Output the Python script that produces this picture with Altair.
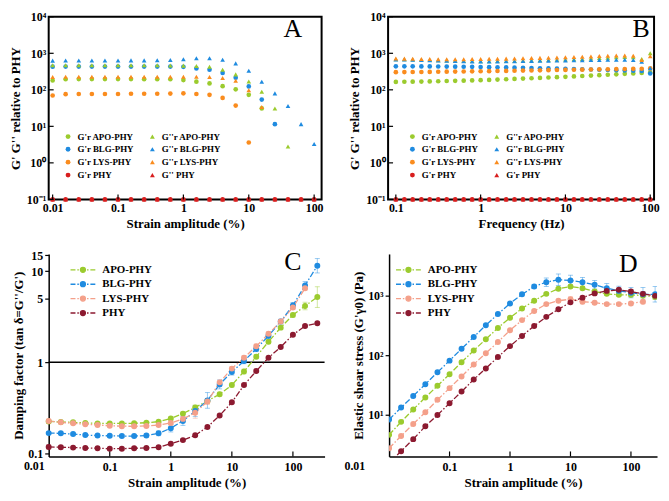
import altair as alt
import pandas as pd

FONT = "Liberation Serif"
GREEN = "#9BCB2E"
BLUE = "#1F8BE0"
ORANGE = "#FA8C1E"
RED = "#D81E1E"
SALMON = "#F4A08A"
MAROON = "#8C1A30"

# ---------------- Panel A : strain sweep (relative moduli) ----------------
strain_A = [0.01, 0.0158, 0.0251, 0.0398, 0.0631, 0.1, 0.158, 0.251, 0.398, 0.631,
            1, 1.58, 2.51, 3.98, 6.31, 10, 15.8, 25.1, 39.8, 63.1, 100]
A_gp_apo = [180, 195, 197, 197, 197, 197, 197, 196, 196, 195, 185, 167, 150, 126, 103, 73, 31, None, None, None, None]
A_gp_blg = [430, 432, 432, 432, 432, 432, 432, 432, 432, 432, 425, 385, 355, 290, 215, 124, 54, 11.5, None, None, None]
A_gp_lys = [70, 76, 77, 77, 77, 77, 78, 78, 78, 79, 80, 77, 73, 60, 37, 3.6, None, None, None, None, None]
A_gp_phy = [0.1, 0.1, 0.1, 0.1, 0.1, 0.1, 0.1, 0.1, 0.1, 0.1, 0.1, 0.1, 0.1, 0.1, 0.1, 0.1, 0.1, 0.1, 0.1, 0.1, 0.1]
A_gpp_apo = [470, 470, 470, 470, 470, 470, 470, 470, 468, 466, 460, 450, 430, 355, 265, 170, 88, 31, 2.8, None, None]
A_gpp_blg = [630, 635, 635, 635, 635, 635, 640, 640, 645, 655, 690, 730, 730, 670, 530, 335, 167, 80, 36, 11.5, 3.3]
A_gpp_lys = [225, 228, 228, 228, 228, 228, 228, 228, 228, 228, 228, 228, 225, 210, 177, 97, 34, None, None, None, None]
A_gpp_phy = [0.1, 0.1, 0.1, 0.1, 0.1, 0.1, 0.1, 0.1, 0.1, 0.1, 0.1, 0.1, 0.1, 0.1, 0.1, 0.1, 0.1, 0.1, 0.1, 0.1, 0.1]
A_names = ["G'r APO-PHY", "G'r BLG-PHY", "G'r LYS-PHY", "G'r PHY",
           "G''r APO-PHY", "G''r BLG-PHY", "G''r LYS-PHY", "G'' PHY"]

# ---------------- Panel B : frequency sweep ----------------
freq_B = [0.1, 0.126, 0.158, 0.2, 0.251, 0.316, 0.398, 0.501, 0.631, 0.794,
          1, 1.26, 1.58, 2, 2.51, 3.16, 3.98, 5.01, 6.31, 7.94,
          10, 12.6, 15.8, 20, 25.1, 31.6, 39.8, 50.1, 63.1, 79.4, 100]
B_gp_apo = [165, 166, 167, 168, 170, 172, 174, 176, 178, 181, 184, 187, 191, 195, 199, 203,
            207, 212, 217, 222, 227, 233, 239, 245, 252, 259, 266, 274, 282, 290, 300]
B_gp_blg = [440, 440, 439, 438, 437, 435, 433, 431, 428, 425, 422, 418, 414, 410, 405, 400,
            395, 390, 385, 380, 375, 370, 365, 360, 355, 350, 345, 340, 335, 330, 280]
B_gp_lys = [305, 306, 307, 308, 310, 312, 314, 316, 318, 320, 322, 324, 327, 330, 333, 336,
            339, 342, 345, 348, 351, 354, 357, 360, 363, 366, 369, 372, 375, 378, 385]
B_gp_phy = [0.1, 0.1, 0.1, 0.1, 0.1, 0.1, 0.1, 0.1, 0.1, 0.1, 0.1, 0.1, 0.1, 0.1, 0.1, 0.1,
            0.1, 0.1, 0.1, 0.1, 0.1, 0.1, 0.1, 0.1, 0.1, 0.1, 0.1, 0.1, 0.1, 0.1, 0.1]
B_gpp_apo = [690, 685, 680, 670, 660, 650, 640, 630, 620, 615, 610, 610, 612, 615, 620, 630,
             640, 650, 660, 670, 680, 690, 700, 720, 740, 760, 780, 790, 780, 700, 1000]
B_gpp_blg = [680, 675, 670, 660, 650, 640, 630, 620, 610, 600, 595, 595, 600, 605, 610, 615,
             620, 625, 630, 635, 640, 645, 650, 655, 660, 665, 670, 665, 655, 590, 390]
B_gpp_lys = [720, 715, 710, 700, 695, 690, 690, 690, 690, 695, 700, 705, 710, 715, 720, 730,
             740, 750, 760, 770, 780, 790, 800, 820, 840, 860, 870, 870, 860, 660, 830]
B_gpp_phy = [0.1, 0.1, 0.1, 0.1, 0.1, 0.1, 0.1, 0.1, 0.1, 0.1, 0.1, 0.1, 0.1, 0.1, 0.1, 0.1,
             0.1, 0.1, 0.1, 0.1, 0.1, 0.1, 0.1, 0.1, 0.1, 0.1, 0.1, 0.1, 0.1, 0.1, 0.1]
B_names = ["G'r APO-PHY", "G'r BLG-PHY", "G'r LYS-PHY", "G'r PHY",
           "G''r APO-PHY", "G''r BLG-PHY", "G''r LYS-PHY", "G'r PHY "]

# ---------------- Panel C : damping factor ----------------
strain_C = [0.01, 0.0158, 0.0251, 0.0398, 0.0631, 0.1, 0.158, 0.251, 0.398, 0.631,
            1, 1.58, 2.51, 3.98, 6.31, 10, 15.8, 25.1, 39.8, 63.1, 100, 158, 251]
C_apo = [0.223, 0.22, 0.218, 0.215, 0.212, 0.212, 0.212, 0.213, 0.216, 0.222, 0.24, 0.272,
         0.318, 0.375, 0.445, 0.56, 0.79, 1.15, 1.68, 2.4, 3.3, 4.15, 5.2]
C_blg = [0.166, 0.165, 0.162, 0.158, 0.156, 0.155, 0.154, 0.154, 0.156, 0.165, 0.188, 0.226,
         0.29, 0.38, 0.57, 0.78, 1.03, 1.4, 1.95, 2.8, 4.2, 7.0, 11.5]
C_lys = [0.225, 0.218, 0.213, 0.208, 0.204, 0.2, 0.198, 0.197, 0.199, 0.204, 0.214, 0.238,
         0.278, 0.37, 0.6, 0.85, 1.12, 1.5, 2.05, 2.8, 4.0, 6.5, None]
C_phy = [0.117, 0.116, 0.115, 0.114, 0.113, 0.112, 0.112, 0.113, 0.114, 0.116, 0.127, 0.139,
         0.157, 0.194, 0.259, 0.362, 0.56, 0.8, 1.12, 1.47, 2.0, 2.5, 2.68]
C_err_apo = [0.04, 0.03, 0.03, 0.02, 0.02, 0.02, 0.02, 0.02, 0.03, 0.03, 0.04, 0.04,
             0.06, 0.06, 0.05, 0.05, 0.06, 0.05, 0.05, 0.05, 0.05, 0.1, 0.3]
C_err_blg = [0.03, 0.03, 0.03, 0.03, 0.03, 0.03, 0.03, 0.03, 0.04, 0.06, 0.1, 0.12,
             0.15, 0.22, 0.12, 0.08, 0.07, 0.07, 0.07, 0.06, 0.08, 0.1, 0.2]
C_err_lys = [0.05, 0.04, 0.03, 0.03, 0.03, 0.03, 0.03, 0.03, 0.03, 0.04, 0.05, 0.06,
             0.15, 0.08, 0.06, 0.05, 0.05, 0.05, 0.05, 0.05, 0.05, 0.05, None]
C_err_phy = [0.05, 0.04, 0.03, 0.03, 0.03, 0.03, 0.03, 0.03, 0.03, 0.03, 0.03, 0.03,
             0.03, 0.03, 0.03, 0.03, 0.03, 0.03, 0.03, 0.03, 0.03, 0.03, 0.03]

# ---------------- Panel D : elastic shear stress ----------------
strain_D = strain_C
D_apo = [4.6, 7.6, 12.3, 19.5, 30.6, 48, 76, 120, 185, 287, 424, 610, 820, 1070, 1300,
         1420, 1330, 1170, 1070, 1030, 1030, 1000, 960]
D_blg = [8.3, 13.2, 20.7, 32.6, 51.6, 81, 128, 202, 318, 490, 740, 1050, 1420, 1680, 1850,
         1800, 1680, 1520, 1330, 1200, 1120, 1050, 1050]
D_lys = [2.75, 4.4, 7.0, 11, 17.8, 28, 44, 70, 108, 166, 262, 388, 550, 720, 820, 870,
         790, 760, 720, 720, 740, 790, None]
D_phy = [1.55, 2.45, 3.9, 6.4, 9.9, 15.6, 24.5, 39, 60, 93, 142, 210, 310, 440, 590, 770,
         925, 1090, 1200, 1250, 1170, 1070, 990]
D_err_apo = [0.03, 0.03, 0.03, 0.03, 0.03, 0.03, 0.03, 0.03, 0.03, 0.03, 0.03, 0.03, 0.04,
             0.05, 0.05, 0.06, 0.06, 0.06, 0.06, 0.06, 0.08, 0.1, 0.12]
D_err_blg = [0.03, 0.03, 0.03, 0.03, 0.03, 0.03, 0.03, 0.03, 0.03, 0.03, 0.04, 0.06, 0.08,
             0.18, 0.25, 0.22, 0.2, 0.18, 0.2, 0.2, 0.22, 0.3, 0.35]
D_err_lys = [0.03, 0.03, 0.03, 0.03, 0.03, 0.03, 0.03, 0.03, 0.03, 0.03, 0.03, 0.03, 0.04,
             0.05, 0.06, 0.1, 0.08, 0.06, 0.06, 0.06, 0.06, 0.08, None]
D_err_phy = [0.03, 0.03, 0.03, 0.03, 0.03, 0.03, 0.03, 0.03, 0.03, 0.03, 0.03, 0.03, 0.03,
             0.03, 0.03, 0.04, 0.05, 0.05, 0.06, 0.06, 0.08, 0.1, 0.12]

CD_names = ["APO-PHY", "BLG-PHY", "LYS-PHY", "PHY"]
CD_colors = [GREEN, BLUE, SALMON, MAROON]


def long_table(x, names, series, key, errs=None):
    rows = []
    for i, (n, ys) in enumerate(zip(names, series)):
        for j, (xv, yv) in enumerate(zip(x, ys)):
            if yv is None:
                continue
            row = {"x": xv, "y": yv, key: n}
            if errs is not None:
                e = errs[i][j] or 0
                row["lo"] = yv / (1 + e)
                row["hi"] = yv * (1 + e)
            rows.append(row)
    return pd.DataFrame(rows)


def axis(title, values, **kw):
    base = dict(title=title, values=values, labelFont=FONT, labelFontSize=12,
                labelFontWeight="bold", labelColor="black", titleFont=FONT,
                titleFontSize=13, titleFontWeight="bold", titleColor="black",
                grid=False, ticks=False, domainColor="black", domainWidth=1.5,
                labelFlush=False, labelPadding=3, titlePadding=4)
    base.update(kw)
    return alt.Axis(**base)


def xtick_layer(xvals, xenc, H):
    return alt.Chart(pd.DataFrame({"x": xvals})).mark_rule(color="black", strokeWidth=1.2).encode(
        x=xenc, y=alt.value(H), y2=alt.value(H - 5))


def ytick_layer(yvals, yenc):
    return alt.Chart(pd.DataFrame({"y": yvals})).mark_rule(color="black", strokeWidth=1.2).encode(
        y=yenc, x=alt.value(0), x2=alt.value(5))


def letter(txt, x, y):
    return alt.Chart(pd.DataFrame({"t": [txt]})).mark_text(
        font=FONT, fontSize=26, color="black", align="center", baseline="middle").encode(
        text="t:N", x=alt.value(x), y=alt.value(y))


SUP_AB = ("datum.value >= 9999 ? '10\u2074' : datum.value >= 999 ? '10\u00b3' : "
          "datum.value >= 99 ? '10\u00b2' : datum.value >= 9 ? '10\u00b9' : "
          "datum.value >= 0.9 ? '10\u2070' : '10\u207b\u00b9'")
SUP_D = "datum.value >= 999 ? '10\u00b3' : datum.value >= 99 ? '10\u00b2' : '10\u00b9'"


def moduli_panel(x, names, series, colors, shapes, xdomain, xvals, xtitle, W, H, let, letx,
                 lety, legx, key):
    df = long_table(x, names, series, key)
    xenc = alt.X("x:Q", scale=alt.Scale(type="log", domain=xdomain, nice=False),
                 axis=axis(xtitle, xvals, format="~g", domain=False))
    yvals = [0.1, 1, 10, 100, 1000, 10000]
    yenc = alt.Y("y:Q", scale=alt.Scale(type="log", domain=[0.1, 10000], nice=False),
                 axis=axis("G' G'' relative to PHY", yvals, labelExpr=SUP_AB, domain=False))
    leg = alt.Legend(orient="none", legendX=legx, legendY=H - 68, columns=2, title=None,
                     labelFont=FONT, labelFontSize=9, labelFontWeight="bold",
                     labelColor="black", symbolSize=24, symbolStrokeWidth=0,
                     columnPadding=14, rowPadding=3, labelOffset=5, padding=0)
    pts = alt.Chart(df).mark_point(filled=True, size=22, opacity=1).encode(
        x=xenc, y=yenc,
        color=alt.Color(f"{key}:N", scale=alt.Scale(domain=names, range=colors), legend=leg),
        shape=alt.Shape(f"{key}:N", scale=alt.Scale(domain=names, range=shapes), legend=leg),
    )
    layers = [pts, xtick_layer(list(xvals), xenc, H), ytick_layer(yvals, yenc),
              letter(let, letx, lety)]
    return alt.layer(*layers).properties(
        width=W, height=H, view=alt.ViewBackground(stroke="black", strokeWidth=2))


def curve_panel(x, series, errs, xmax, ydomain, yvals, ytitle, ylabel_expr, W, H, let, letx,
                lety, legx, clip, key, dx001, hline=False):
    df = long_table(x, CD_names, series, key, errs)
    xlab = "datum.value < 0.011 ? '' : datum.label"
    xenc = alt.X("x:Q", scale=alt.Scale(type="log", domain=[0.01, xmax], nice=False),
                 axis=axis("Strain amplitude (%)", [0.01, 0.1, 1, 10, 100], format="~g",
                           labelExpr=xlab, labelPadding=5))
    ykw = dict(labelExpr=ylabel_expr) if ylabel_expr else dict(format="~g")
    ykw.update(ticks=True, tickSize=4, tickWidth=1.2, tickColor="black",
               labelPadding=2, titlePadding=2)
    yenc = alt.Y("y:Q", scale=alt.Scale(type="log", domain=ydomain, nice=False),
                 axis=axis(ytitle, yvals, **ykw))
    yenc_lo = alt.Y("lo:Q", scale=alt.Scale(type="log", domain=ydomain, nice=False),
                    axis=axis(ytitle, yvals, **ykw))
    cscale = alt.Scale(domain=CD_names, range=CD_colors)
    path = ("M-1,0H-0.6M-0.45,0H-0.33M-0.2,0A0.2,0.2,0,1,1,0.2,0"
            "A0.2,0.2,0,1,1,-0.2,0M0.33,0H0.45M0.6,0H1")
    leg = alt.Legend(orient="none", legendX=legx, legendY=10, title=None, symbolType=path,
                     symbolSize=625, symbolStrokeWidth=1.3, symbolOpacity=1, labelFont=FONT,
                     labelFontSize=11, labelFontWeight="bold", labelColor="black",
                     clipHeight=12, rowPadding=2.5, labelOffset=6, padding=0)
    col = alt.Color(f"{key}:N", scale=cscale, legend=leg)
    layers = []
    if hline:
        layers.append(alt.Chart(pd.DataFrame({"y": [1]})).mark_rule(
            color="black", strokeWidth=1.5).encode(y=yenc))
    err = alt.Chart(df).mark_errorbar(ticks=True, opacity=0.45, clip=clip).encode(
        x=xenc, y=yenc_lo, y2=alt.Y2("hi:Q"), color=col)
    line = alt.Chart(df).mark_line(strokeDash=[6, 2, 1.5, 2], strokeWidth=1.3, clip=clip).encode(
        x=xenc, y=yenc, color=col)
    pts = alt.Chart(df).mark_point(filled=True, size=16, opacity=1, clip=clip).encode(
        x=xenc, y=yenc, color=col,
        stroke=alt.Stroke(f"{key}:N", scale=cscale, legend=leg))
    first_label = alt.Chart(pd.DataFrame({"x": [0.01], "t": ["0.01"]})).mark_text(
        font=FONT, fontSize=12, fontWeight="bold", color="black", align="right",
        baseline="top", dx=-dx001).encode(x=xenc, y=alt.value(H + 5), text="t:N")
    layers += [err, line, pts, first_label, xtick_layer([0.1, 1, 10, 100], xenc, H),
               letter(let, letx, lety)]
    return alt.layer(*layers).properties(width=W, height=H)


H1 = 184
H2 = 204
AB_colors = [GREEN, BLUE, ORANGE, RED, GREEN, BLUE, ORANGE, RED]
AB_shapes = ["circle"] * 4 + ["triangle-up"] * 4

A = moduli_panel(strain_A, A_names,
                 [A_gp_apo, A_gp_blg, A_gp_lys, A_gp_phy, A_gpp_apo, A_gpp_blg, A_gpp_lys, A_gpp_phy],
                 AB_colors, AB_shapes,
                 [0.0087, 130], [0.01, 0.1, 1, 10, 100], "Strain amplitude (%)",
                 275, H1, "A", 246, 12, 15, "sa")
B = moduli_panel(freq_B, B_names,
                 [B_gp_apo, B_gp_blg, B_gp_lys, B_gp_phy, B_gpp_apo, B_gpp_blg, B_gpp_lys, B_gpp_phy],
                 AB_colors, AB_shapes,
                 [0.081, 111], [0.1, 1, 10, 100], "Frequency (Hz)",
                 268, H1, "B", 255, 12, 20, "sb")
C = curve_panel(strain_C, [C_apo, C_blg, C_lys, C_phy],
                [C_err_apo, C_err_blg, C_err_lys, C_err_phy], 330,
                [0.092, 15.5], [0.1, 1, 5, 10, 15], "Damping factor (tan \u03b4=G''/G')", None,
                278, H2, "C", 246, 8, 21, False, "sc", 4, hline=True)
D = curve_panel(strain_D, [D_apo, D_blg, D_lys, D_phy],
                [D_err_apo, D_err_blg, D_err_lys, D_err_phy], 270,
                [2, 5000], [10, 100, 1000], "Elastic shear stress (G'\u03b30) (Pa)", SUP_D,
                270, H2, "D", 241, 10, 6, True, "sd", 24)

IND = dict(color="independent", shape="independent", stroke="independent")

row1 = alt.hconcat(A, B, spacing=23).resolve_scale(**IND).resolve_legend(**IND)
row2 = alt.hconcat(C, D, spacing=19).resolve_scale(**IND).resolve_legend(**IND)

chart = alt.vconcat(row1, row2, spacing=18).resolve_scale(**IND).resolve_legend(**IND).properties(
    padding=0).configure_view(strokeWidth=0)

chart.save("out.html", embed_options={"renderer": "svg", "actions": False})
